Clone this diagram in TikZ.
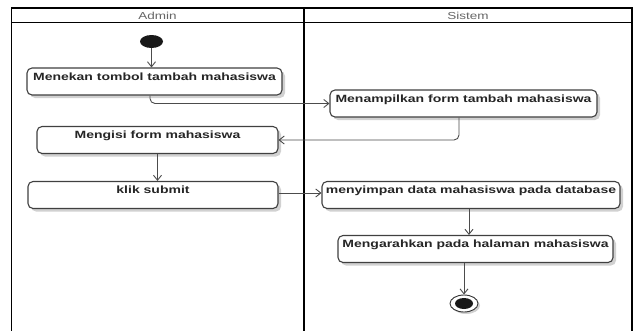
\documentclass[tikz,border=0pt]{standalone}
\usepackage{fontspec}
\usepackage{graphicx}
\setmainfont{Liberation Sans}
\usetikzlibrary{arrows.meta,shadows,shapes.geometric}

% squash text vertically the way the swimlane export renders it
\newcommand{\squashtext}[1]{\scalebox{1}[0.75]{#1}}

\tikzset{
  lane/.style={line width=1.8pt, draw=black},
  lanetitle/.style={font=\fontsize{13.5}{14}\selectfont, text=black!60, inner sep=0pt},
  action/.style={draw=black!75, line width=1.1pt, rounded corners=5pt, fill=white,
    drop shadow={shadow xshift=3pt, shadow yshift=-3pt, opacity=0.18, fill=black},
    font=\fontsize{14}{15}\selectfont\bfseries, text=black!85,
    inner xsep=0pt, inner ysep=2pt, text height=10pt, text depth=13pt, align=center},
  flow/.style={draw=black!70, line width=0.9pt, rounded corners=5pt,
    -{Straight Barb[length=5pt,width=8pt,line width=0.9pt]}},
}

\begin{document}
\begin{tikzpicture}[x=1pt,y=1pt]
  \useasboundingbox (0,0) rectangle (637,-330);
  \fill[white] (0,0) rectangle (637,-330);

  % swimlane frame
  \draw[lane] (11.5,-331) -- (11.5,-8) -- (632,-8) -- (632,-331);
  \draw[lane] (11.5,-22.5) -- (632,-22.5);
  \draw[lane] (304,-8) -- (304,-331);
  \node[lanetitle] (admin) at (157.5,-15.5) {\squashtext{Admin}};
  \node[lanetitle] (sistem) at (468,-15.5) {\squashtext{Sistem}};

  % initial and final states
  \node[ellipse, fill=black!90, minimum width=23pt, minimum height=13pt, inner sep=0pt] (start) at (151.5,-41.5) {};
  \node[ellipse, draw=black!80, line width=0.9pt, fill=white, minimum width=28pt, minimum height=17pt, inner sep=0pt,
        drop shadow={shadow xshift=2pt, shadow yshift=-2pt, opacity=0.18, fill=black}] (end) at (464,-303.5) {};
  \node[ellipse, fill=black!90, minimum width=18pt, minimum height=11pt, inner sep=0pt] (endcore) at (end) {};

  % actions
  \node[action, minimum width=255pt] (n1) at (154.5,-81.5) {\squashtext{Menekan tombol tambah mahasiswa}};
  \node[action, minimum width=267pt] (n2) at (463.5,-103.5) {\squashtext{Menampilkan form tambah mahasiswa}};
  \node[action, minimum width=241pt] (n3) at (157.5,-140) {\squashtext{Mengisi form mahasiswa}};
  \node[action, minimum width=250pt] (n4) at (153,-195) {\squashtext{klik submit}};
  \node[action, minimum width=298pt] (n5) at (471,-195) {\squashtext{menyimpan data mahasiswa pada database}};
  \node[action, minimum width=275pt] (n6) at (475.5,-249) {\squashtext{Mengarahkan pada halaman mahasiswa}};

  % control flow
  \draw[flow] (start) -- (start |- n1.north);
  \draw[flow] ([xshift=-4.5pt]n1.south) |- (n2.west);
  \draw[flow] ([xshift=-4.5pt]n2.south) |- (n3.east);
  \draw[flow] (n3.south) -- (n3.south |- n4.north);
  \draw[flow] ([yshift=2pt]n4.east) -- ([yshift=2pt]n5.west);
  \draw[flow] ([xshift=-2pt]n5.south) -- ([xshift=-2pt]n5.south |- n6.north);
  \draw[flow] (n6.south -| end) -- (end.north);
\end{tikzpicture}
\end{document}
